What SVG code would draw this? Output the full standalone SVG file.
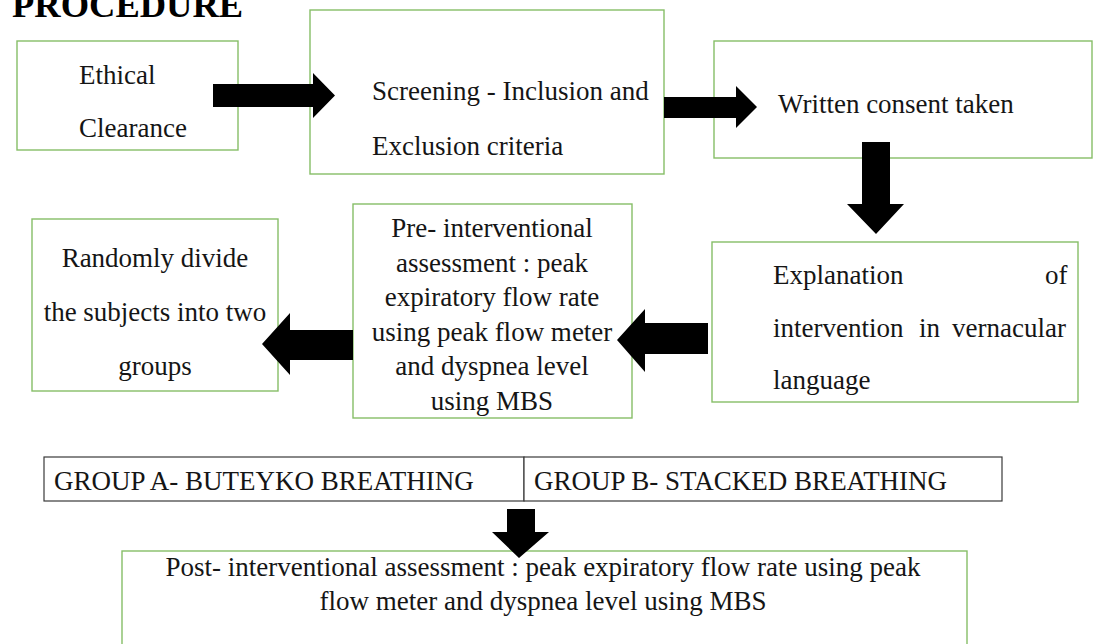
<svg xmlns="http://www.w3.org/2000/svg" width="1094" height="644" viewBox="0 0 1094 644">
<style>
.box{fill:#fff;stroke:#86BE67;stroke-width:1.4}
.cell{fill:#fff;stroke:#3a3a3a;stroke-width:1.2}
.t{font-size:27px;fill:#151515}
.c{text-anchor:middle}
.title{font-size:36.5px;font-weight:bold;fill:#000}
.arr{fill:#000}
</style>
<rect width="1094" height="644" fill="#fff"/>
<g font-family="Liberation Serif, 'Times New Roman', serif">
<text class="title" x="12" y="17">PROCEDURE</text>

<g id="node-ethical">
<rect class="box" x="17" y="41" width="221" height="109"/>
<text class="t" x="79" y="84">Ethical</text>
<text class="t" x="79" y="137">Clearance</text>
</g>

<g id="node-screening">
<rect class="box" x="310" y="10" width="354" height="164"/>
<text class="t" x="372" y="100">Screening - Inclusion and</text>
<text class="t" x="372" y="155">Exclusion criteria</text>
</g>

<g id="node-consent">
<rect class="box" x="714" y="41" width="378" height="117"/>
<text class="t" x="778" y="113">Written consent taken</text>
</g>

<g id="node-explanation">
<rect class="box" x="712" y="242" width="366" height="160"/>
<text class="t" y="284"><tspan x="773">Explanation</tspan><tspan x="1045">of</tspan></text>
<text class="t" y="337"><tspan x="773">intervention</tspan><tspan x="919">in</tspan><tspan x="952">vernacular</tspan></text>
<text class="t" x="773" y="389">language</text>
</g>

<g id="node-pre">
<rect class="box" x="353" y="204" width="279" height="214"/>
<text class="t c" x="492" y="237">Pre- interventional</text>
<text class="t c" x="492" y="272">assessment : peak</text>
<text class="t c" x="492" y="306">expiratory flow rate</text>
<text class="t c" x="492" y="341">using peak flow meter</text>
<text class="t c" x="492" y="375">and dyspnea level</text>
<text class="t c" x="492" y="410">using MBS</text>
</g>

<g id="node-random">
<rect class="box" x="32" y="219" width="246" height="172"/>
<text class="t c" x="155" y="267">Randomly divide</text>
<text class="t c" x="155" y="321">the subjects into two</text>
<text class="t c" x="155" y="375">groups</text>
</g>

<g id="node-groups">
<rect class="cell" x="44" y="457" width="480" height="44"/>
<rect class="cell" x="524" y="457" width="478" height="44"/>
<text class="t" x="54" y="490">GROUP A- BUTEYKO BREATHING</text>
<text class="t" x="534" y="490">GROUP B- STACKED BREATHING</text>
</g>

<g id="node-post">
<rect class="box" x="122" y="551" width="845" height="110"/>
<text class="t c" x="543" y="576">Post- interventional assessment : peak expiratory flow rate using peak</text>
<text class="t c" x="543" y="610">flow meter and dyspnea level using MBS</text>
</g>
</g>

<g id="connectors">
<polygon class="arr" points="213,84 313,84 313,73 335,95.5 313,118 313,107 213,107"/>
<polygon class="arr" points="664,97 736,97 736,86 757,107 736,128 736,118 664,118"/>
<polygon class="arr" points="862,142 890,142 890,204 904,204 876,234 847,204 862,204"/>
<polygon class="arr" points="708,323 645,323 645,309 617,340 645,372 645,354 708,354"/>
<polygon class="arr" points="353,330 290,330 290,313 262,344 290,375 290,360 353,360"/>
<polygon class="arr" points="507,509 535,509 535,532 549,532 519,558 492,532 507,532"/>
</g>
</svg>
